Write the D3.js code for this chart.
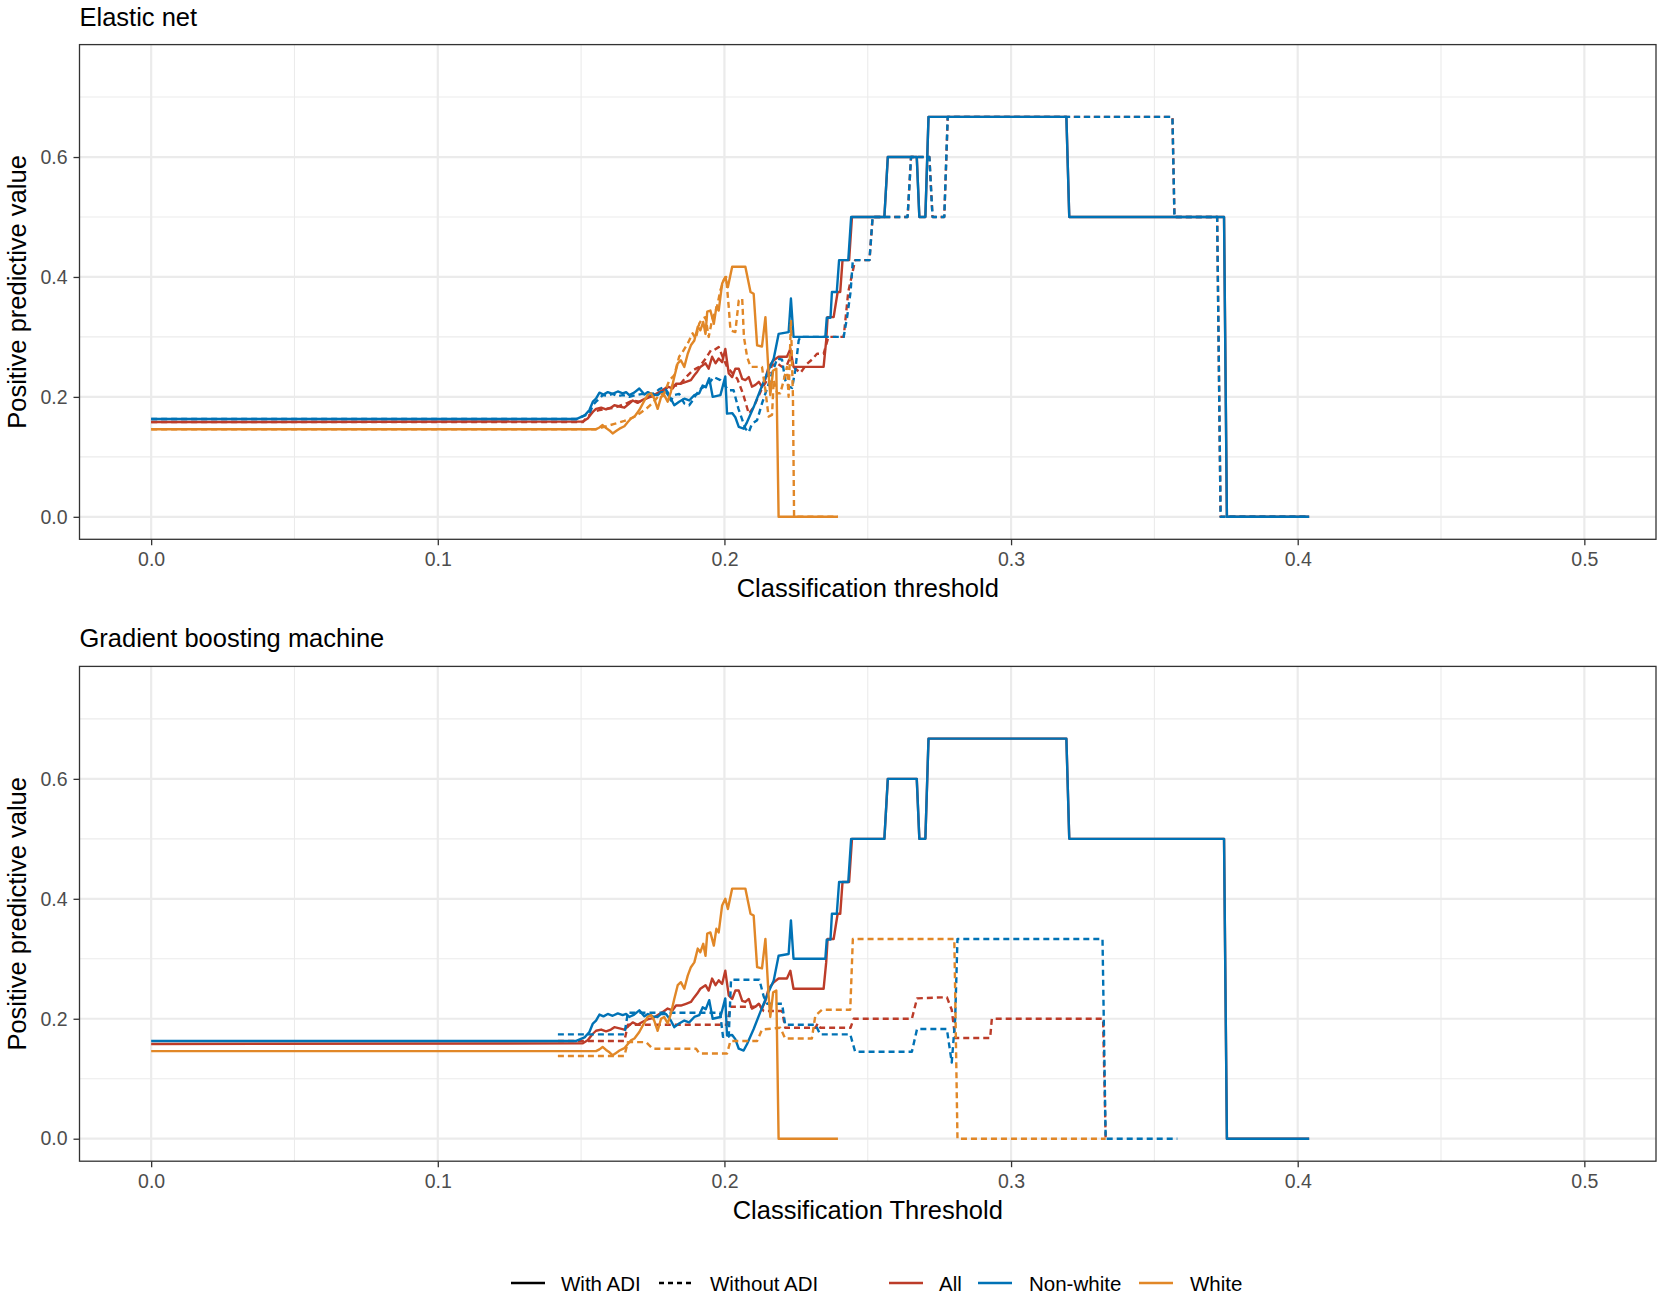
<!DOCTYPE html>
<html>
<head>
<meta charset="utf-8">
<script src="https://cdn.jsdelivr.net/npm/d3@7"></script>
<style>
  html, body { margin: 0; padding: 0; background: #ffffff; }
  svg { display: block; font-family: "Liberation Sans", Arial, Helvetica, sans-serif; }
</style>
</head>
<body>
<svg id="chart" width="1664" height="1299"></svg>
<script>
// ---------------- DATA ----------------
const panelTitles = ["Elastic net", "Gradient boosting machine"];
const xAxisTitles = ["Classification threshold", "Classification Threshold"];
const yAxisTitle = "Positive predictive value";
const xTicks = [0, 0.1, 0.2, 0.3, 0.4, 0.5];
const yTicks = [0, 0.2, 0.4, 0.6];
const groups = ["All", "Non-white", "White"];
const groupColors = ["#BC3C29", "#0072B5", "#E18727"];
const adiLabels = ["With ADI", "Without ADI"];

// "With ADI" curves (same in both panels): [threshold, PPV]
const withAll = [[0,0.158],[0.1506,0.159],[0.1523,0.164],[0.1541,0.175],[0.1552,0.18],[0.157,0.182],[0.1587,0.179],[0.1604,0.182],[0.1616,0.186],[0.1634,0.184],[0.1651,0.182],[0.1668,0.189],[0.168,0.194],[0.1697,0.19],[0.1715,0.195],[0.1732,0.199],[0.175,0.201],[0.1773,0.208],[0.1784,0.211],[0.1802,0.217],[0.1819,0.214],[0.1831,0.222],[0.1848,0.222],[0.1866,0.225],[0.1883,0.228],[0.1895,0.236],[0.1905,0.242],[0.1916,0.25],[0.1934,0.256],[0.1945,0.247],[0.1957,0.267],[0.1969,0.256],[0.198,0.264],[0.1992,0.258],[0.2003,0.28],[0.2015,0.239],[0.2027,0.233],[0.2038,0.247],[0.205,0.247],[0.2062,0.23],[0.2073,0.228],[0.2085,0.233],[0.2096,0.217],[0.2108,0.22],[0.212,0.225],[0.2131,0.217],[0.2143,0.23],[0.2154,0.25],[0.2172,0.261],[0.2189,0.267],[0.2218,0.267],[0.223,0.28],[0.2241,0.25],[0.2346,0.25],[0.2355,0.294],[0.236,0.333],[0.2381,0.333],[0.2395,0.375],[0.2404,0.375],[0.2412,0.428],[0.2435,0.428],[0.2445,0.5],[0.2558,0.5],[0.257,0.6],[0.2671,0.6],[0.268,0.5],[0.2701,0.5],[0.2712,0.667],[0.3193,0.667],[0.3203,0.5],[0.3743,0.5],[0.3753,0],[0.404,0]];
const withNonWhite = [[0,0.163],[0.1483,0.163],[0.1512,0.169],[0.1529,0.178],[0.1541,0.192],[0.1552,0.197],[0.1564,0.207],[0.1578,0.204],[0.1593,0.208],[0.161,0.205],[0.1628,0.209],[0.1645,0.206],[0.1657,0.208],[0.1668,0.203],[0.1685,0.207],[0.1703,0.214],[0.1721,0.204],[0.1733,0.208],[0.175,0.204],[0.1767,0.203],[0.1779,0.208],[0.1796,0.208],[0.1813,0.197],[0.1825,0.186],[0.1842,0.192],[0.186,0.197],[0.1877,0.194],[0.1895,0.203],[0.1912,0.206],[0.1924,0.219],[0.1935,0.216],[0.1947,0.231],[0.1959,0.2],[0.1986,0.203],[0.2003,0.234],[0.2009,0.172],[0.2027,0.173],[0.2038,0.166],[0.205,0.15],[0.2067,0.147],[0.2079,0.158],[0.2102,0.183],[0.2125,0.211],[0.2149,0.239],[0.2172,0.264],[0.2189,0.305],[0.2224,0.308],[0.2232,0.364],[0.2241,0.3],[0.2352,0.3],[0.2357,0.332],[0.237,0.332],[0.2375,0.375],[0.2392,0.375],[0.24,0.428],[0.2432,0.428],[0.2442,0.5],[0.2558,0.5],[0.257,0.6],[0.2671,0.6],[0.268,0.5],[0.2701,0.5],[0.2712,0.667],[0.3193,0.667],[0.3203,0.5],[0.3743,0.5],[0.3753,0],[0.404,0]];
const withWhite = [[0,0.146],[0.1552,0.146],[0.1564,0.149],[0.1575,0.153],[0.1587,0.148],[0.1599,0.144],[0.161,0.139],[0.1622,0.143],[0.1634,0.147],[0.1651,0.151],[0.1663,0.158],[0.1674,0.164],[0.1686,0.167],[0.1703,0.178],[0.1721,0.194],[0.1732,0.203],[0.1744,0.206],[0.1755,0.197],[0.1767,0.18],[0.1779,0.2],[0.179,0.203],[0.1802,0.192],[0.1813,0.208],[0.1825,0.233],[0.1837,0.256],[0.1848,0.261],[0.186,0.25],[0.1872,0.272],[0.1883,0.286],[0.1895,0.294],[0.1907,0.317],[0.1916,0.311],[0.1926,0.325],[0.1934,0.305],[0.194,0.342],[0.1951,0.344],[0.1963,0.322],[0.1972,0.35],[0.198,0.344],[0.1992,0.389],[0.2003,0.4],[0.2012,0.383],[0.2027,0.417],[0.2073,0.417],[0.2091,0.375],[0.2102,0.372],[0.2114,0.286],[0.2131,0.284],[0.2143,0.333],[0.2154,0.239],[0.216,0.203],[0.217,0.244],[0.2181,0.247],[0.2189,0],[0.2396,0]];

// Elastic net, "Without ADI"
const enWithoutAll = [[0,0.158],[0.1506,0.158],[0.1523,0.167],[0.1541,0.175],[0.1564,0.178],[0.1587,0.18],[0.1616,0.182],[0.1634,0.185],[0.1657,0.189],[0.168,0.194],[0.1703,0.192],[0.1727,0.197],[0.175,0.203],[0.1773,0.207],[0.1796,0.214],[0.1819,0.219],[0.1842,0.219],[0.1866,0.233],[0.1889,0.244],[0.1912,0.25],[0.1935,0.264],[0.1953,0.278],[0.1963,0.278],[0.198,0.283],[0.1992,0.269],[0.2009,0.25],[0.2027,0.24],[0.2045,0.23],[0.2065,0.205],[0.2085,0.172],[0.2102,0.183],[0.2131,0.214],[0.2149,0.228],[0.2166,0.253],[0.2184,0.256],[0.2201,0.25],[0.2218,0.253],[0.223,0.267],[0.2241,0.25],[0.2265,0.24],[0.2288,0.255],[0.2305,0.262],[0.2323,0.272],[0.2346,0.272],[0.2363,0.3],[0.2416,0.3],[0.2432,0.375],[0.2456,0.428],[0.2506,0.428],[0.2517,0.5],[0.2639,0.5],[0.2651,0.6],[0.2715,0.6],[0.2726,0.5],[0.2767,0.5],[0.2779,0.667],[0.3563,0.667],[0.357,0.5],[0.3719,0.5],[0.3731,0],[0.404,0]];
const enWithoutNonWhite = [[0,0.163],[0.1483,0.163],[0.1529,0.172],[0.1541,0.186],[0.1552,0.192],[0.1564,0.197],[0.1575,0.203],[0.1593,0.202],[0.161,0.205],[0.1628,0.201],[0.1645,0.203],[0.1668,0.2],[0.1691,0.203],[0.1715,0.205],[0.1738,0.203],[0.1761,0.208],[0.1773,0.213],[0.179,0.216],[0.1802,0.208],[0.1813,0.194],[0.1825,0.203],[0.1842,0.205],[0.186,0.189],[0.1877,0.186],[0.1889,0.194],[0.19,0.203],[0.1918,0.214],[0.193,0.217],[0.1945,0.222],[0.1963,0.233],[0.1986,0.228],[0.2015,0.211],[0.2032,0.211],[0.2049,0.18],[0.2073,0.147],[0.2085,0.141],[0.2096,0.155],[0.2114,0.161],[0.2131,0.189],[0.2149,0.214],[0.2166,0.239],[0.2184,0.264],[0.2201,0.262],[0.2212,0.228],[0.2224,0.217],[0.2236,0.215],[0.2247,0.244],[0.2259,0.294],[0.2265,0.3],[0.2416,0.3],[0.2428,0.333],[0.244,0.375],[0.2448,0.428],[0.2506,0.428],[0.2517,0.5],[0.2639,0.5],[0.2651,0.6],[0.2715,0.6],[0.2726,0.5],[0.2767,0.5],[0.2779,0.667],[0.3563,0.667],[0.357,0.5],[0.3719,0.5],[0.3731,0],[0.404,0]];
const enWithoutWhite = [[0,0.146],[0.155,0.146],[0.158,0.15],[0.1616,0.155],[0.1651,0.16],[0.1674,0.164],[0.1703,0.172],[0.1727,0.18],[0.175,0.19],[0.1773,0.203],[0.179,0.206],[0.1808,0.228],[0.1825,0.236],[0.1842,0.267],[0.1854,0.275],[0.1872,0.289],[0.1889,0.306],[0.19,0.297],[0.1912,0.322],[0.1922,0.33],[0.1934,0.333],[0.1945,0.3],[0.1957,0.328],[0.1974,0.35],[0.1986,0.378],[0.1997,0.394],[0.2006,0.4],[0.2015,0.35],[0.2021,0.311],[0.2038,0.308],[0.205,0.361],[0.2062,0.364],[0.2068,0.3],[0.2079,0.267],[0.2091,0.25],[0.2131,0.25],[0.2143,0.211],[0.2154,0.167],[0.2166,0.17],[0.2172,0.228],[0.2184,0.206],[0.2195,0.206],[0.2207,0.228],[0.2218,0.25],[0.2224,0.2],[0.2232,0.328],[0.2239,0.2],[0.2243,0],[0.2396,0]];

// Gradient boosting machine, "Without ADI"
const gbmWithoutAll = [[0.1419,0.163],[0.1651,0.163],[0.1663,0.19],[0.2009,0.19],[0.2021,0.22],[0.2125,0.22],[0.2137,0.213],[0.2201,0.213],[0.2212,0.185],[0.2318,0.185],[0.2325,0.192],[0.2335,0.185],[0.244,0.185],[0.2451,0.2],[0.2654,0.2],[0.2672,0.234],[0.2776,0.236],[0.2793,0.215],[0.2805,0.168],[0.2927,0.168],[0.2933,0.2],[0.3321,0.2],[0.333,0]];
const gbmWithoutNonWhite = [[0.1419,0.174],[0.1651,0.174],[0.1663,0.21],[0.1985,0.21],[0.1995,0.17],[0.2015,0.17],[0.2023,0.265],[0.2122,0.265],[0.2137,0.237],[0.2149,0.225],[0.2201,0.225],[0.2212,0.19],[0.2318,0.19],[0.2334,0.174],[0.2439,0.174],[0.2456,0.145],[0.2654,0.145],[0.2672,0.183],[0.2776,0.183],[0.2793,0.127],[0.2805,0.2],[0.2813,0.333],[0.3319,0.333],[0.333,0],[0.358,0]];
const gbmWithoutWhite = [[0.1419,0.138],[0.1651,0.138],[0.1663,0.161],[0.1727,0.161],[0.175,0.15],[0.1901,0.15],[0.1913,0.142],[0.2009,0.142],[0.2021,0.163],[0.2114,0.163],[0.2131,0.182],[0.2195,0.185],[0.2212,0.167],[0.2305,0.167],[0.2317,0.205],[0.234,0.215],[0.2439,0.215],[0.2448,0.333],[0.2802,0.333],[0.2813,0],[0.333,0]];

// ---------------- LAYOUT ----------------
const svg = d3.select("#chart");
const W = 1664, H = 1299;
svg.append("rect").attr("width", W).attr("height", H).attr("fill", "#ffffff");

const plotLeft = 79.5, plotRight = 1656;
const panels = [
  { top: 44.6, bottom: 539.3, title: panelTitles[0], xtitle: xAxisTitles[0],
    without: [enWithoutAll, enWithoutNonWhite, enWithoutWhite] },
  { top: 666.4, bottom: 1161.2, title: panelTitles[1], xtitle: xAxisTitles[1],
    without: [gbmWithoutAll, gbmWithoutNonWhite, gbmWithoutWhite] }
];
const withSeries = [withAll, withNonWhite, withWhite];

const x = d3.scaleLinear().domain([-0.025, 0.525]).range([plotLeft, plotRight]);
const dashPattern = "6,4";
const lineW = 2.4;

panels.forEach((p, pi) => {
  const y = d3.scaleLinear().domain([-0.0375, 0.7875]).range([p.bottom, p.top]);
  const g = svg.append("g");

  // minor grid
  const xMinor = [0.05, 0.15, 0.25, 0.35, 0.45];
  const yMinor = [0.1, 0.3, 0.5, 0.7];
  g.selectAll(null).data(xMinor).enter().append("line")
    .attr("x1", d => x(d)).attr("x2", d => x(d)).attr("y1", p.top).attr("y2", p.bottom)
    .attr("stroke", "#EBEBEB").attr("stroke-width", 1.1);
  g.selectAll(null).data(yMinor).enter().append("line")
    .attr("y1", d => y(d)).attr("y2", d => y(d)).attr("x1", plotLeft).attr("x2", plotRight)
    .attr("stroke", "#EBEBEB").attr("stroke-width", 1.1);
  // major grid
  g.selectAll(null).data(xTicks).enter().append("line")
    .attr("x1", d => x(d)).attr("x2", d => x(d)).attr("y1", p.top).attr("y2", p.bottom)
    .attr("stroke", "#EBEBEB").attr("stroke-width", 2.2);
  g.selectAll(null).data(yTicks).enter().append("line")
    .attr("y1", d => y(d)).attr("y2", d => y(d)).attr("x1", plotLeft).attr("x2", plotRight)
    .attr("stroke", "#EBEBEB").attr("stroke-width", 2.2);

  const line = d3.line().x(d => x(d[0])).y(d => y(d[1]));
  // draw order: All-with, All-without, NW-with, NW-without, W-with, W-without
  groups.forEach((grp, gi) => {
    g.append("path").datum(withSeries[gi]).attr("d", line)
      .attr("fill", "none").attr("stroke", groupColors[gi]).attr("stroke-width", lineW)
      .attr("stroke-linejoin", "round");
    g.append("path").datum(p.without[gi]).attr("d", line)
      .attr("fill", "none").attr("stroke", groupColors[gi]).attr("stroke-width", lineW)
      .attr("stroke-dasharray", dashPattern).attr("stroke-linejoin", "round");
  });

  // panel border
  g.append("rect").attr("x", plotLeft).attr("y", p.top)
    .attr("width", plotRight - plotLeft).attr("height", p.bottom - p.top)
    .attr("fill", "none").attr("stroke", "#333333").attr("stroke-width", 1.3);

  // axes
  const xAxis = d3.axisBottom(x).tickValues(xTicks).tickFormat(d3.format(".1f"))
    .tickSize(6).tickPadding(6.5);
  const xa = g.append("g").attr("transform", `translate(0,${p.bottom})`).call(xAxis);
  xa.select(".domain").remove();
  xa.selectAll(".tick line").attr("stroke", "#333333").attr("stroke-width", 1.3);
  xa.selectAll(".tick text").attr("fill", "#4D4D4D").style("font-size", "19.5px")
    .style("font-family", "'Liberation Sans', Arial, sans-serif");

  const yAxis = d3.axisLeft(y).tickValues(yTicks).tickFormat(d3.format(".1f"))
    .tickSize(6).tickPadding(6);
  const ya = g.append("g").attr("transform", `translate(${plotLeft},0)`).call(yAxis);
  ya.select(".domain").remove();
  ya.selectAll(".tick line").attr("stroke", "#333333").attr("stroke-width", 1.3);
  ya.selectAll(".tick text").attr("fill", "#4D4D4D").style("font-size", "19.5px")
    .style("font-family", "'Liberation Sans', Arial, sans-serif");

  // titles
  g.append("text").attr("x", plotLeft).attr("y", p.top - 19)
    .attr("fill", "#000").style("font-size", "25.5px").text(p.title);
  g.append("text").attr("x", (plotLeft + plotRight) / 2).attr("y", p.bottom + 58)
    .attr("text-anchor", "middle").attr("fill", "#000").style("font-size", "25.5px").text(p.xtitle);
  g.append("text")
    .attr("transform", `translate(26,${(p.top + p.bottom) / 2}) rotate(-90)`)
    .attr("text-anchor", "middle").attr("fill", "#000").style("font-size", "25.5px").text(yAxisTitle);
});

// ---------------- LEGEND ----------------
const legY = 1283;
const leg = svg.append("g");
const ltKeys = [
  { x1: 511, x2: 545, tx: 561, dash: null, label: adiLabels[0] },
  { x1: 659, x2: 693, tx: 710, dash: "5,4", label: adiLabels[1] }
];
ltKeys.forEach(k => {
  const l = leg.append("line").attr("x1", k.x1).attr("x2", k.x2).attr("y1", legY).attr("y2", legY)
    .attr("stroke", "#000").attr("stroke-width", lineW);
  if (k.dash) l.attr("stroke-dasharray", k.dash);
  leg.append("text").attr("x", k.tx).attr("y", legY + 7.5).attr("fill", "#000")
    .style("font-size", "20.5px").text(k.label);
});
const colKeys = [
  { x1: 889, x2: 923, tx: 939 },
  { x1: 978, x2: 1012, tx: 1029 },
  { x1: 1139, x2: 1173, tx: 1190 }
];
colKeys.forEach((k, i) => {
  leg.append("line").attr("x1", k.x1).attr("x2", k.x2).attr("y1", legY).attr("y2", legY)
    .attr("stroke", groupColors[i]).attr("stroke-width", lineW);
  leg.append("text").attr("x", k.tx).attr("y", legY + 7.5).attr("fill", "#000")
    .style("font-size", "20.5px").text(groups[i]);
});
</script>
</body>
</html>
